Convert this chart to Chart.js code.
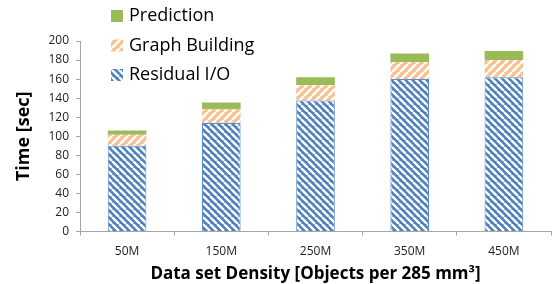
<!DOCTYPE html>
<html>
<head>
<meta charset="utf-8">
<script src="https://cdn.jsdelivr.net/npm/chart.js@4"></script>
<style>
  html, body { margin: 0; padding: 0; background: #fff; }
  #wrap { width: 557px; height: 284px; }
</style>
</head>
<body>
<div id="wrap"><canvas id="chart" width="557" height="284"></canvas></div>
<script>
// --- data ---
const categories = ['50M', '150M', '250M', '350M', '450M'];
const residualIO = [90, 114, 137.5, 160, 162];
const graphBuilding = [11.5, 14, 16, 18, 18];
const prediction = [4.5, 7.5, 8.5, 9, 9.5];
const yTicks = [0, 20, 40, 60, 80, 100, 120, 140, 160, 180, 200];

const FONT = "'Open Sans', 'Liberation Sans', sans-serif";

// diagonal stripe fill, dir '\\' or '/'
function stripes(bg, fg, size, lw, dir) {
  const c = document.createElement('canvas');
  c.width = c.height = size;
  const x = c.getContext('2d');
  x.fillStyle = bg;
  x.fillRect(0, 0, size, size);
  x.strokeStyle = fg;
  x.lineWidth = lw;
  x.beginPath();
  for (let k = -1; k <= 1; k++) {
    if (dir === '\\') { x.moveTo(k * size, 0); x.lineTo(k * size + size, size); }
    else { x.moveTo(k * size, size); x.lineTo(k * size + size, 0); }
  }
  x.stroke();
  return x.createPattern(c, 'repeat');
}

const blueFill = stripes('#4f81bd', '#ffffff', 7, 2.4, '\\');
const orangeFill = stripes('#fac090', '#ffffff', 8, 2.6, '/');
const greenFill = '#9bbb59';

// vertical legend top-left, reversed order (like Excel)
const legendPlugin = {
  id: 'sideLegend',
  afterDraw(chart) {
    const ctx = chart.ctx;
    const items = chart.data.datasets.slice().reverse();
    ctx.save();
    ctx.font = '18px ' + FONT;
    ctx.textBaseline = 'middle';
    items.forEach((ds, i) => {
      const cy = 16 + i * 29.5;
      ctx.fillStyle = ds.backgroundColor;
      ctx.fillRect(111, cy - 6, 12, 12);
      ctx.fillStyle = '#000';
      ctx.fillText(ds.label, 129, cy);
    });
    ctx.restore();
  }
};

new Chart(document.getElementById('chart'), {
  type: 'bar',
  data: {
    labels: categories,
    datasets: [
      { label: 'Residual I/O', data: residualIO, backgroundColor: blueFill, borderColor: '#5b8ccc', borderWidth: 1 },
      { label: 'Graph Building', data: graphBuilding, backgroundColor: orangeFill, borderWidth: 0 },
      { label: 'Prediction', data: prediction, backgroundColor: greenFill, borderWidth: 0 },
    ],
  },
  options: {
    responsive: false,
    animation: false,
    layout: { padding: { top: 41, right: 6, left: 0, bottom: 0 } },
    datasets: { bar: { categoryPercentage: 1, barPercentage: 0.41 } },
    plugins: { legend: { display: false }, tooltip: { enabled: false } },
    scales: {
      x: {
        stacked: true,
        grid: { display: true, offset: true, drawOnChartArea: false, tickLength: 4, color: '#a6a6a6' },
        border: { color: '#a6a6a6' },
        ticks: { font: { family: FONT, size: 12 }, color: '#222', padding: 9 },
        title: { display: true, text: 'Data set Density [Objects per 285 mm³]', font: { family: FONT, size: 17, weight: 'bold' }, color: '#000', padding: { top: 0, bottom: 0 } },
        afterFit(s) { s.height = 52.5; },
      },
      y: {
        stacked: true,
        min: 0, max: 200,
        afterBuildTicks(s) { s.ticks = yTicks.map((v) => ({ value: v })); },
        grid: { drawOnChartArea: false, tickLength: 4, color: '#a6a6a6' },
        border: { color: '#a6a6a6' },
        ticks: { font: { family: FONT, size: 12 }, color: '#222', padding: 7 },
        title: { display: true, text: 'Time [sec]', font: { family: FONT, size: 18, weight: 'bold' }, color: '#000', padding: { top: 13, bottom: 0 } },
        afterFit(s) { s.width = 80; },
      },
    },
  },
  plugins: [legendPlugin],
});
</script>
</body>
</html>
